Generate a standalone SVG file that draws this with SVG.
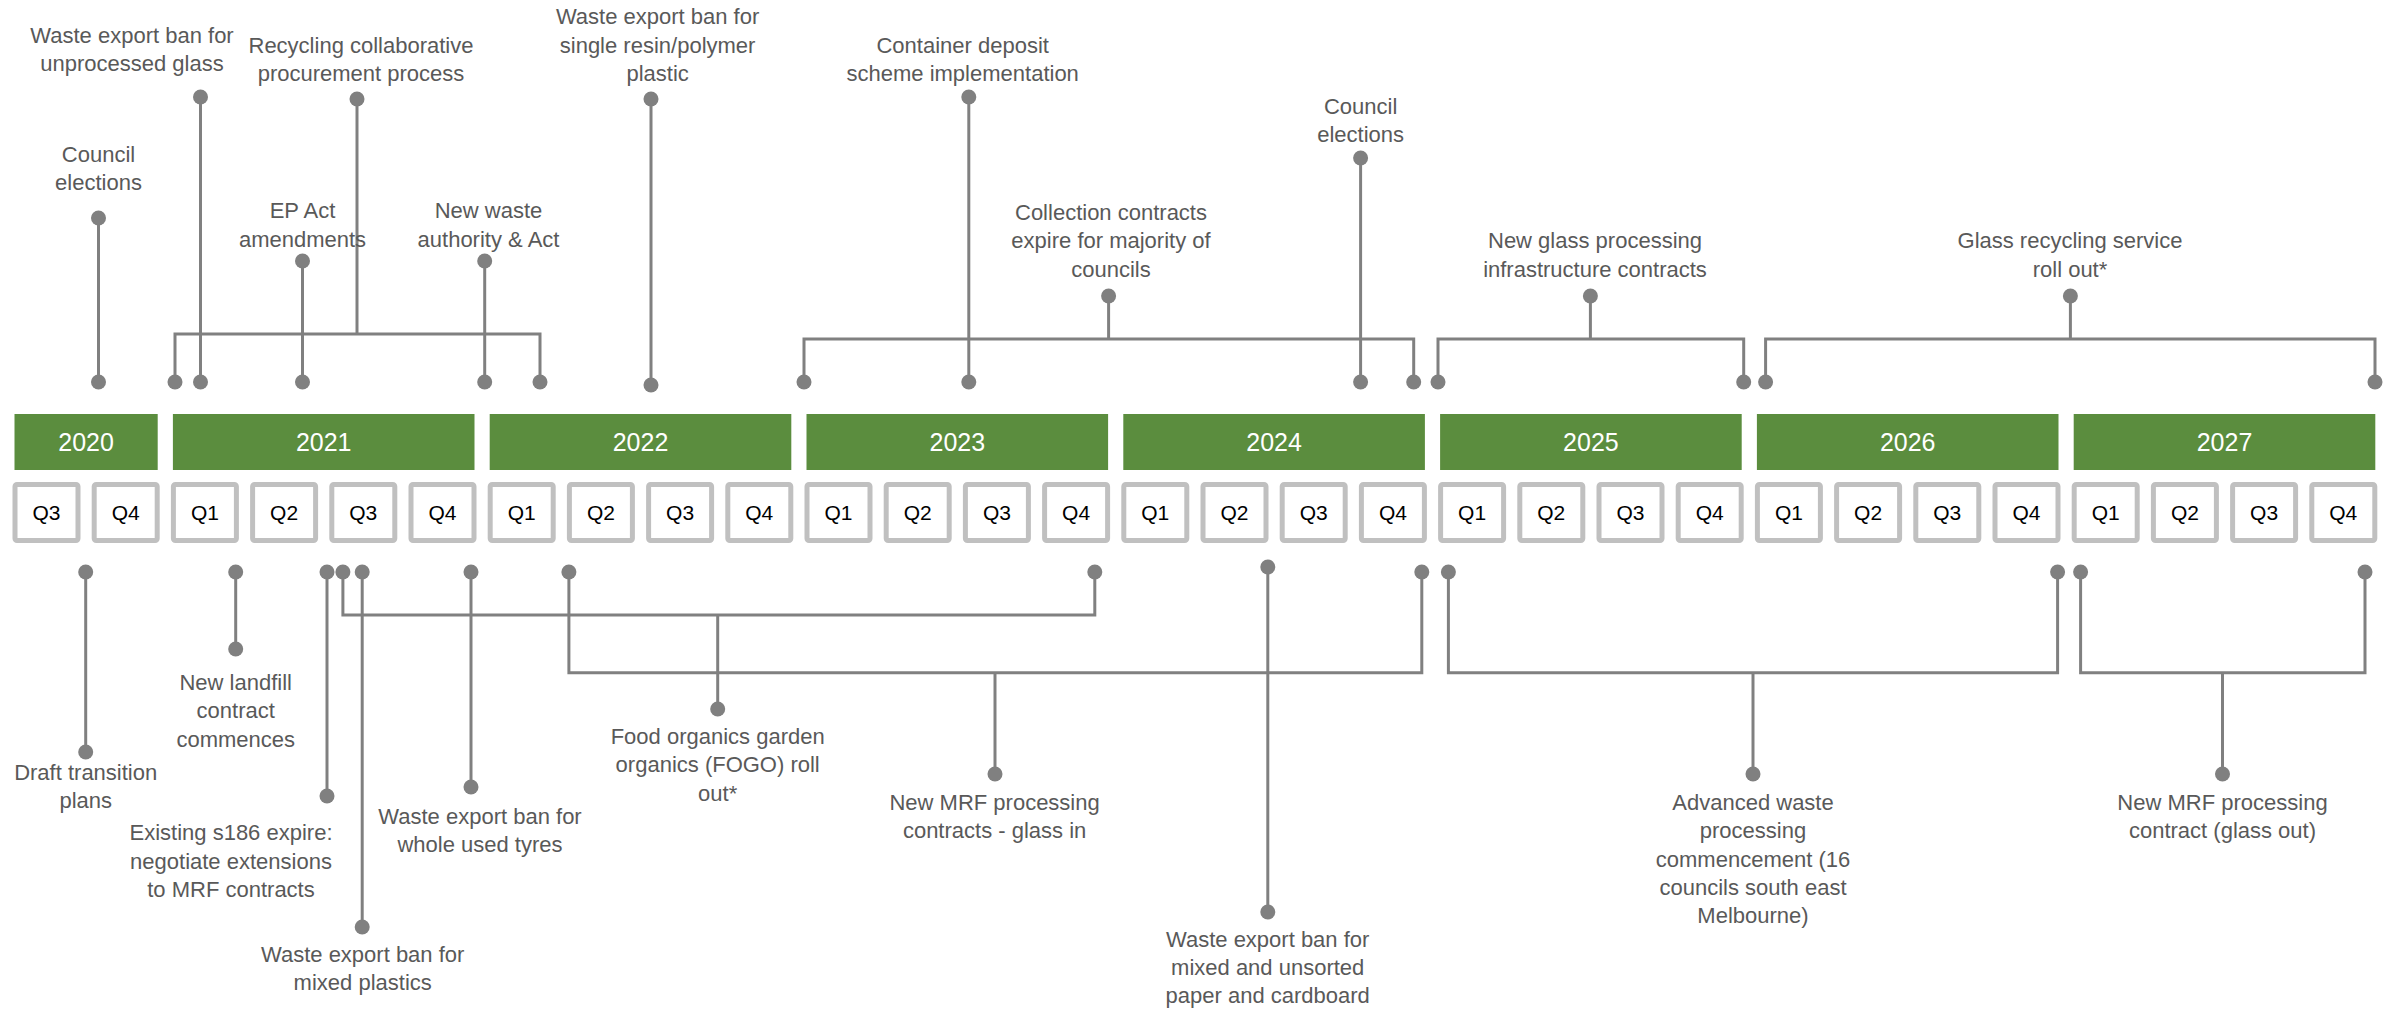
<svg xmlns="http://www.w3.org/2000/svg" width="2397" height="1010" viewBox="0 0 2397 1010">
<style>
.bg{fill:#ffffff}
.yr{fill:#5b8d3e}
.yt{font-family:"Liberation Sans",Arial,sans-serif;font-size:25px;fill:#ffffff;text-anchor:middle}
.qb{fill:#ffffff;stroke:#c0c0c0;stroke-width:5}
.qt{font-family:"Liberation Sans",Arial,sans-serif;font-size:21px;fill:#000000;text-anchor:middle}
.lb{font-family:"Liberation Sans",Arial,sans-serif;font-size:22px;fill:#595959;text-anchor:middle}
.ln{fill:none;stroke:#808080;stroke-width:3;marker-start:url(#dot);marker-end:url(#dot)}
.st{fill:none;stroke:#808080;stroke-width:3;marker-end:url(#dot)}
</style>
<defs>
<marker id="dot" markerUnits="userSpaceOnUse" viewBox="0 0 16 16" refX="8" refY="8" markerWidth="16" markerHeight="16" orient="auto">
<circle cx="8" cy="8" r="7.5" fill="#808080"/>
</marker>
</defs>
<rect class="bg" x="0" y="0" width="2397" height="1010"/>

<g id="years">
<g id="y2020"><rect class="yr" x="14.5" y="414" width="143.2" height="56"/><text class="yt" x="86.1" y="451">2020</text></g>
<g id="y2021"><rect class="yr" x="172.9" y="414" width="301.6" height="56"/><text class="yt" x="323.7" y="451">2021</text></g>
<g id="y2022"><rect class="yr" x="489.7" y="414" width="301.6" height="56"/><text class="yt" x="640.5" y="451">2022</text></g>
<g id="y2023"><rect class="yr" x="806.5" y="414" width="301.6" height="56"/><text class="yt" x="957.3" y="451">2023</text></g>
<g id="y2024"><rect class="yr" x="1123.3" y="414" width="301.6" height="56"/><text class="yt" x="1274.1" y="451">2024</text></g>
<g id="y2025"><rect class="yr" x="1440.1" y="414" width="301.6" height="56"/><text class="yt" x="1590.9" y="451">2025</text></g>
<g id="y2026"><rect class="yr" x="1756.9" y="414" width="301.6" height="56"/><text class="yt" x="1907.7" y="451">2026</text></g>
<g id="y2027"><rect class="yr" x="2073.7" y="414" width="301.6" height="56"/><text class="yt" x="2224.5" y="451">2027</text></g>
</g>

<g id="quarters">
<g id="q2020-3"><rect class="qb" x="15" y="484.5" width="63" height="56" rx="2"/><text class="qt" x="46.5" y="520">Q3</text></g>
<g id="q2020-4"><rect class="qb" x="94.2" y="484.5" width="63" height="56" rx="2"/><text class="qt" x="125.7" y="520">Q4</text></g>
<g id="q2021-1"><rect class="qb" x="173.4" y="484.5" width="63" height="56" rx="2"/><text class="qt" x="204.9" y="520">Q1</text></g>
<g id="q2021-2"><rect class="qb" x="252.6" y="484.5" width="63" height="56" rx="2"/><text class="qt" x="284.1" y="520">Q2</text></g>
<g id="q2021-3"><rect class="qb" x="331.8" y="484.5" width="63" height="56" rx="2"/><text class="qt" x="363.3" y="520">Q3</text></g>
<g id="q2021-4"><rect class="qb" x="411" y="484.5" width="63" height="56" rx="2"/><text class="qt" x="442.5" y="520">Q4</text></g>
<g id="q2022-1"><rect class="qb" x="490.2" y="484.5" width="63" height="56" rx="2"/><text class="qt" x="521.7" y="520">Q1</text></g>
<g id="q2022-2"><rect class="qb" x="569.4" y="484.5" width="63" height="56" rx="2"/><text class="qt" x="600.9" y="520">Q2</text></g>
<g id="q2022-3"><rect class="qb" x="648.6" y="484.5" width="63" height="56" rx="2"/><text class="qt" x="680.1" y="520">Q3</text></g>
<g id="q2022-4"><rect class="qb" x="727.8" y="484.5" width="63" height="56" rx="2"/><text class="qt" x="759.3" y="520">Q4</text></g>
<g id="q2023-1"><rect class="qb" x="807" y="484.5" width="63" height="56" rx="2"/><text class="qt" x="838.5" y="520">Q1</text></g>
<g id="q2023-2"><rect class="qb" x="886.2" y="484.5" width="63" height="56" rx="2"/><text class="qt" x="917.7" y="520">Q2</text></g>
<g id="q2023-3"><rect class="qb" x="965.4" y="484.5" width="63" height="56" rx="2"/><text class="qt" x="996.9" y="520">Q3</text></g>
<g id="q2023-4"><rect class="qb" x="1044.6" y="484.5" width="63" height="56" rx="2"/><text class="qt" x="1076.1" y="520">Q4</text></g>
<g id="q2024-1"><rect class="qb" x="1123.8" y="484.5" width="63" height="56" rx="2"/><text class="qt" x="1155.3" y="520">Q1</text></g>
<g id="q2024-2"><rect class="qb" x="1203" y="484.5" width="63" height="56" rx="2"/><text class="qt" x="1234.5" y="520">Q2</text></g>
<g id="q2024-3"><rect class="qb" x="1282.2" y="484.5" width="63" height="56" rx="2"/><text class="qt" x="1313.7" y="520">Q3</text></g>
<g id="q2024-4"><rect class="qb" x="1361.4" y="484.5" width="63" height="56" rx="2"/><text class="qt" x="1392.9" y="520">Q4</text></g>
<g id="q2025-1"><rect class="qb" x="1440.6" y="484.5" width="63" height="56" rx="2"/><text class="qt" x="1472.1" y="520">Q1</text></g>
<g id="q2025-2"><rect class="qb" x="1519.8" y="484.5" width="63" height="56" rx="2"/><text class="qt" x="1551.3" y="520">Q2</text></g>
<g id="q2025-3"><rect class="qb" x="1599" y="484.5" width="63" height="56" rx="2"/><text class="qt" x="1630.5" y="520">Q3</text></g>
<g id="q2025-4"><rect class="qb" x="1678.2" y="484.5" width="63" height="56" rx="2"/><text class="qt" x="1709.7" y="520">Q4</text></g>
<g id="q2026-1"><rect class="qb" x="1757.4" y="484.5" width="63" height="56" rx="2"/><text class="qt" x="1788.9" y="520">Q1</text></g>
<g id="q2026-2"><rect class="qb" x="1836.6" y="484.5" width="63" height="56" rx="2"/><text class="qt" x="1868.1" y="520">Q2</text></g>
<g id="q2026-3"><rect class="qb" x="1915.8" y="484.5" width="63" height="56" rx="2"/><text class="qt" x="1947.3" y="520">Q3</text></g>
<g id="q2026-4"><rect class="qb" x="1995" y="484.5" width="63" height="56" rx="2"/><text class="qt" x="2026.5" y="520">Q4</text></g>
<g id="q2027-1"><rect class="qb" x="2074.2" y="484.5" width="63" height="56" rx="2"/><text class="qt" x="2105.7" y="520">Q1</text></g>
<g id="q2027-2"><rect class="qb" x="2153.4" y="484.5" width="63" height="56" rx="2"/><text class="qt" x="2184.9" y="520">Q2</text></g>
<g id="q2027-3"><rect class="qb" x="2232.6" y="484.5" width="63" height="56" rx="2"/><text class="qt" x="2264.1" y="520">Q3</text></g>
<g id="q2027-4"><rect class="qb" x="2311.8" y="484.5" width="63" height="56" rx="2"/><text class="qt" x="2343.3" y="520">Q4</text></g>
</g>

<g id="connectors">
<path class="ln" d="M98.5,218 V382"/>
<path class="ln" d="M200.5,97 V382"/>
<path class="ln" d="M175,382 V334 H540 V382"/>
<path class="st" d="M357,334 V99"/>
<path class="ln" d="M302.5,261 V382"/>
<path class="ln" d="M484.7,261 V382"/>
<path class="ln" d="M651,99 V385"/>
<path class="ln" d="M804,382 V339 H1413.7 V382"/>
<path class="st" d="M1108.6,339 V296"/>
<path class="ln" d="M968.8,97 V382"/>
<path class="ln" d="M1360.6,158 V382"/>
<path class="ln" d="M1438,382 V339 H1743.7 V382"/>
<path class="st" d="M1590.4,339 V296"/>
<path class="ln" d="M1765.6,382 V339 H2375 V382"/>
<path class="st" d="M2070.4,339 V296"/>

<path class="ln" d="M85.7,572 V752"/>
<path class="ln" d="M235.7,572 V649"/>
<path class="ln" d="M327,572 V796"/>
<path class="ln" d="M342.9,572 V615 H1094.8 V572"/>
<path class="st" d="M717.7,615 V709"/>
<path class="ln" d="M362.2,572 V927"/>
<path class="ln" d="M471,572 V787"/>
<path class="ln" d="M568.9,572 V672.7 H1421.8 V572"/>
<path class="st" d="M995,672.7 V774"/>
<path class="ln" d="M1267.8,567 V912"/>
<path class="ln" d="M1448.4,572 V672.7 H2057.6 V572"/>
<path class="st" d="M1753,672.7 V774"/>
<path class="ln" d="M2080.6,572 V672.7 H2365 V572"/>
<path class="st" d="M2222.5,672.7 V774"/>
</g>

<g id="events">
<g id="ev-council-2020"><text class="lb"><tspan x="98.5" y="162">Council</tspan><tspan x="98.5" y="190">elections</tspan></text></g>
<g id="ev-glass-ban"><text class="lb"><tspan x="132" y="43">Waste export ban for</tspan><tspan x="132" y="71">unprocessed glass</tspan></text></g>
<g id="ev-recycling-procurement"><text class="lb"><tspan x="361" y="53">Recycling collaborative</tspan><tspan x="361" y="81">procurement process</tspan></text></g>
<g id="ev-ep-act"><text class="lb"><tspan x="302.5" y="218">EP Act</tspan><tspan x="302.5" y="246.5">amendments</tspan></text></g>
<g id="ev-waste-authority"><text class="lb"><tspan x="488.5" y="218">New waste</tspan><tspan x="488.5" y="246.5">authority &amp; Act</tspan></text></g>
<g id="ev-resin-ban"><text class="lb"><tspan x="657.6" y="24">Waste export ban for</tspan><tspan x="657.6" y="52.5">single resin/polymer</tspan><tspan x="657.6" y="81">plastic</tspan></text></g>
<g id="ev-container-deposit"><text class="lb"><tspan x="962.7" y="53">Container deposit</tspan><tspan x="962.7" y="81">scheme implementation</tspan></text></g>
<g id="ev-council-2024"><text class="lb"><tspan x="1360.6" y="113.5">Council</tspan><tspan x="1360.6" y="141.5">elections</tspan></text></g>
<g id="ev-collection-contracts"><text class="lb"><tspan x="1111" y="220">Collection contracts</tspan><tspan x="1111" y="248.3">expire for majority of</tspan><tspan x="1111" y="276.7">councils</tspan></text></g>
<g id="ev-glass-infra"><text class="lb"><tspan x="1595" y="248.3">New glass processing</tspan><tspan x="1595" y="276.7">infrastructure contracts</tspan></text></g>
<g id="ev-glass-service"><text class="lb"><tspan x="2070" y="248.3">Glass recycling service</tspan><tspan x="2070" y="276.7">roll out*</tspan></text></g>

<g id="ev-draft-plans"><text class="lb"><tspan x="85.7" y="779.5">Draft transition</tspan><tspan x="85.7" y="808">plans</tspan></text></g>
<g id="ev-landfill"><text class="lb"><tspan x="235.7" y="689.5">New landfill</tspan><tspan x="235.7" y="718">contract</tspan><tspan x="235.7" y="746.5">commences</tspan></text></g>
<g id="ev-s186"><text class="lb"><tspan x="231" y="840">Existing s186 expire:</tspan><tspan x="231" y="868.5">negotiate extensions</tspan><tspan x="231" y="897">to MRF contracts</tspan></text></g>
<g id="ev-fogo"><text class="lb"><tspan x="717.7" y="743.5">Food organics garden</tspan><tspan x="717.7" y="772">organics (FOGO) roll</tspan><tspan x="717.7" y="800.5">out*</tspan></text></g>
<g id="ev-mixed-plastics"><text class="lb"><tspan x="362.7" y="961.7">Waste export ban for</tspan><tspan x="362.7" y="990">mixed plastics</tspan></text></g>
<g id="ev-tyres"><text class="lb"><tspan x="480" y="824">Waste export ban for</tspan><tspan x="480" y="852">whole used tyres</tspan></text></g>
<g id="ev-mrf-glass-in"><text class="lb"><tspan x="994.6" y="810">New MRF processing</tspan><tspan x="994.6" y="838.3">contracts - glass in</tspan></text></g>
<g id="ev-paper-ban"><text class="lb"><tspan x="1267.7" y="946.7">Waste export ban for</tspan><tspan x="1267.7" y="975">mixed and unsorted</tspan><tspan x="1267.7" y="1003.3">paper and cardboard</tspan></text></g>
<g id="ev-advanced-waste"><text class="lb"><tspan x="1753" y="810">Advanced waste</tspan><tspan x="1753" y="838.3">processing</tspan><tspan x="1753" y="866.7">commencement (16</tspan><tspan x="1753" y="895">councils south east</tspan><tspan x="1753" y="923.3">Melbourne)</tspan></text></g>
<g id="ev-mrf-glass-out"><text class="lb"><tspan x="2222.5" y="810">New MRF processing</tspan><tspan x="2222.5" y="838.3">contract (glass out)</tspan></text></g>
</g>
</svg>
